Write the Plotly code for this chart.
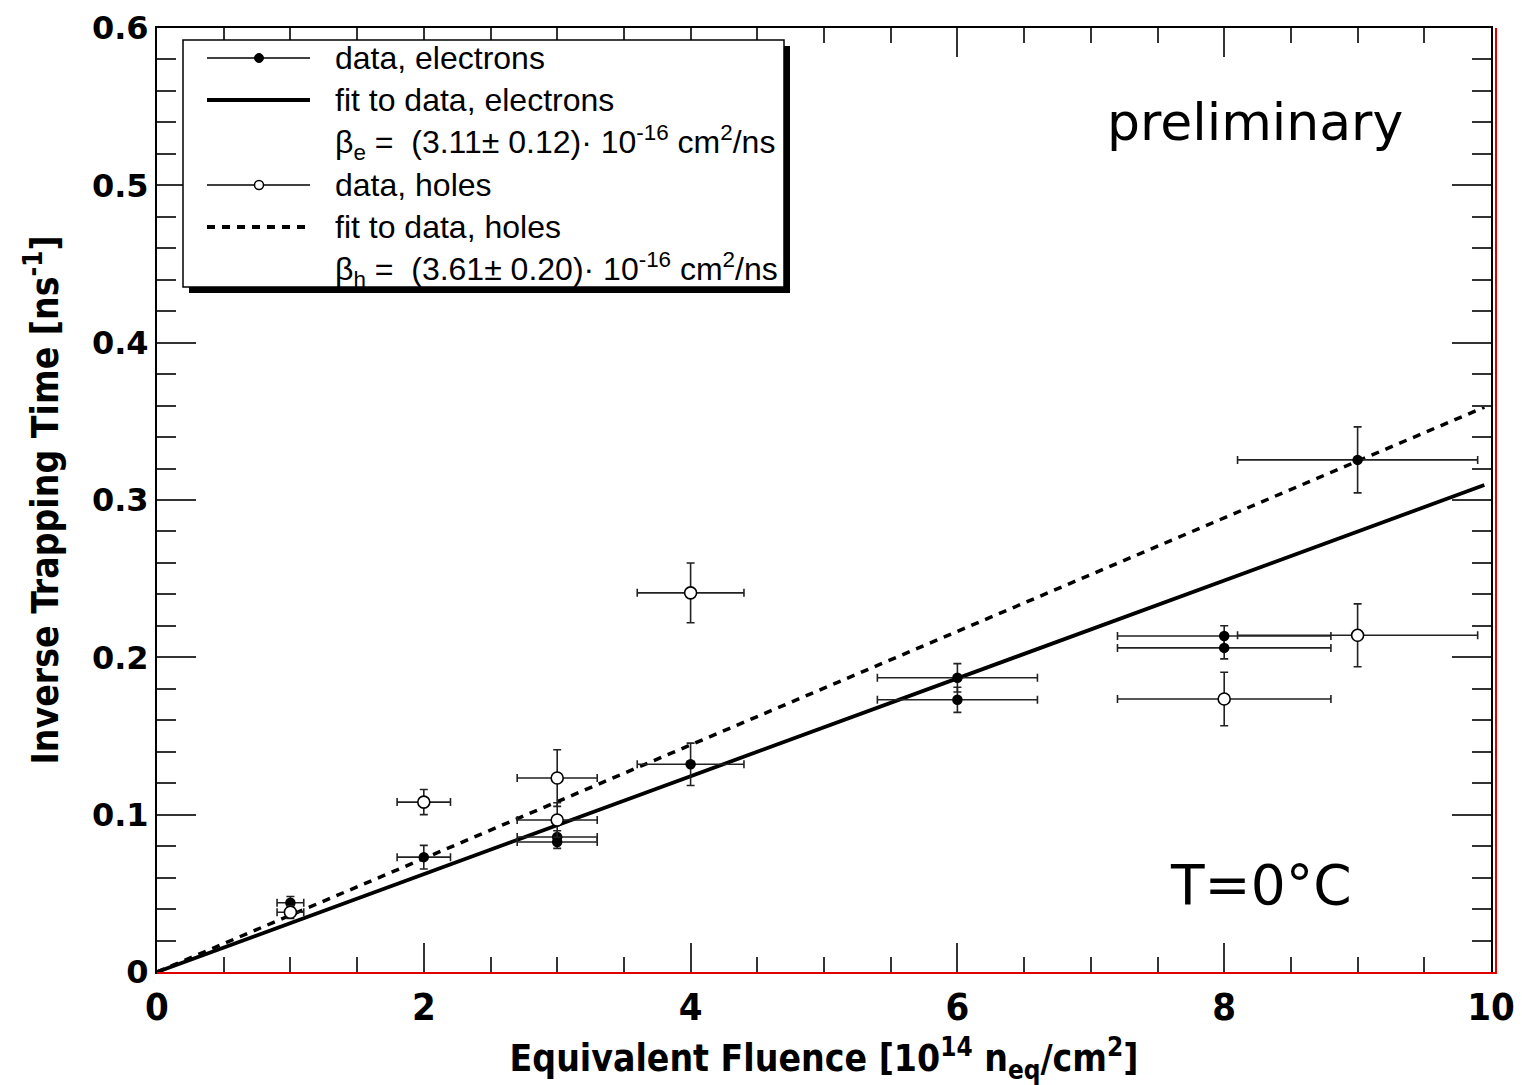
import plotly.graph_objects as go

# ---------------- data ----------------
e_x = [1, 2, 3, 3, 4, 6, 6, 8, 8, 9]
e_y = [0.044, 0.073, 0.0858, 0.0826, 0.132, 0.187, 0.173, 0.2136, 0.206, 0.3255]
e_xerr = [0.1, 0.2, 0.3, 0.3, 0.4, 0.6, 0.6, 0.8, 0.8, 0.9]
e_yerr = [0.004, 0.0075, 0.004, 0.004, 0.0135, 0.009, 0.008, 0.0065, 0.007, 0.021]

h_x = [1, 2, 3, 3, 4, 8, 9]
h_y = [0.038, 0.108, 0.1233, 0.0966, 0.241, 0.1735, 0.214]
h_xerr = [0.1, 0.2, 0.3, 0.3, 0.4, 0.8, 0.9]
h_yerr = [0.004, 0.008, 0.018, 0.011, 0.019, 0.017, 0.020]

fit_x = [0, 9.95]
fit_e_y = [0, 0.3095]
fit_h_y = [0, 0.359]

x_tick_vals = [0, 2, 4, 6, 8, 10]
x_tick_text = ["0", "2", "4", "6", "8", "10"]
y_tick_vals = [0, 0.1, 0.2, 0.3, 0.4, 0.5, 0.6]
y_tick_text = ["0", "0.1", "0.2", "0.3", "0.4", "0.5", "0.6"]

legend_rows = [
    "data, electrons",
    "fit to data, electrons",
    "β<sub>e</sub> =  (3.11± 0.12)· 10<sup>-16</sup> cm<sup>2</sup>/ns",
    "data, holes",
    "fit to data, holes",
    "β<sub>h</sub> =  (3.61± 0.20)· 10<sup>-16</sup> cm<sup>2</sup>/ns",
]

# ---------------- layout geometry ----------------
W, H = 1522, 1085
L, R, T, B = 157, 1491, 28, 972  # plot area in pixels


def px(xp):
    return (xp - L) / (R - L)


def py(yp):
    return (B - yp) / (B - T)


NARROW = "Liberation Sans Narrow, Arial Narrow, DejaVu Sans Condensed, sans-serif"
SANS = "Liberation Sans, Arial, sans-serif"

fig = go.Figure()

fig.add_trace(go.Scatter(x=fit_x, y=fit_h_y, mode="lines",
                         line=dict(color="black", width=3.5, dash="8px,7px"),
                         showlegend=False))
fig.add_trace(go.Scatter(x=fit_x, y=fit_e_y, mode="lines",
                         line=dict(color="black", width=3.8),
                         showlegend=False))

err_style = dict(type="data", visible=True, color="#222", thickness=1.6, width=4)
fig.add_trace(go.Scatter(
    x=e_x, y=e_y, mode="markers",
    marker=dict(symbol="circle", size=10.5, color="black"),
    error_x=dict(array=e_xerr, **err_style),
    error_y=dict(array=e_yerr, **err_style),
    showlegend=False))
fig.add_trace(go.Scatter(
    x=h_x, y=h_y, mode="markers",
    marker=dict(symbol="circle", size=12, color="white",
                line=dict(color="black", width=1.6)),
    error_x=dict(array=h_xerr, **err_style),
    error_y=dict(array=h_yerr, **err_style),
    showlegend=False))

shapes = []
# red border lines (right and bottom)
shapes.append(dict(type="line", xref="paper", yref="paper",
                   x0=px(1496), x1=px(1496), y0=py(973), y1=py(28),
                   line=dict(color="#e00000", width=2)))
shapes.append(dict(type="line", xref="paper", yref="paper",
                   x0=px(157), x1=px(1497), y0=py(973), y1=py(973),
                   line=dict(color="#e00000", width=2)))

# legend box with shadow
shapes.append(dict(type="rect", xref="paper", yref="paper",
                   x0=px(189), x1=px(790), y0=py(46), y1=py(293),
                   fillcolor="black", line=dict(width=0)))
shapes.append(dict(type="rect", xref="paper", yref="paper",
                   x0=px(183), x1=px(784), y0=py(40), y1=py(287),
                   fillcolor="white", line=dict(color="black", width=1.5)))

row_y = [58, 100, 142, 185, 227, 269]
# legend samples
shapes.append(dict(type="line", xref="paper", yref="paper",
                   x0=px(207), x1=px(310), y0=py(row_y[0]), y1=py(row_y[0]),
                   line=dict(color="black", width=1.5)))
shapes.append(dict(type="circle", xref="paper", yref="paper",
                   xsizemode="pixel", ysizemode="pixel",
                   xanchor=px(259), yanchor=py(row_y[0]),
                   x0=-4.5, x1=4.5, y0=-4.5, y1=4.5,
                   fillcolor="black", line=dict(color="black", width=1)))
shapes.append(dict(type="line", xref="paper", yref="paper",
                   x0=px(207), x1=px(310), y0=py(row_y[1]), y1=py(row_y[1]),
                   line=dict(color="black", width=4)))
shapes.append(dict(type="line", xref="paper", yref="paper",
                   x0=px(207), x1=px(310), y0=py(row_y[3]), y1=py(row_y[3]),
                   line=dict(color="black", width=1.5)))
shapes.append(dict(type="circle", xref="paper", yref="paper",
                   xsizemode="pixel", ysizemode="pixel",
                   xanchor=px(259), yanchor=py(row_y[3]),
                   x0=-4.5, x1=4.5, y0=-4.5, y1=4.5,
                   fillcolor="white", line=dict(color="black", width=1.5)))
shapes.append(dict(type="line", xref="paper", yref="paper",
                   x0=px(207), x1=px(305), y0=py(row_y[4]), y1=py(row_y[4]),
                   line=dict(color="black", width=4, dash="8px,7px")))

annotations = []
for txt, yy in zip(legend_rows, row_y):
    annotations.append(dict(text=txt, xref="paper", yref="paper",
                            x=px(333), y=py(yy), xanchor="left", yanchor="middle",
                            showarrow=False,
                            font=dict(family=SANS, size=32, color="black")))

annotations.append(dict(text="preliminary", xref="paper", yref="paper",
                        x=px(1255), y=py(122), xanchor="center", yanchor="middle",
                        showarrow=False,
                        font=dict(family="DejaVu Sans, Verdana, sans-serif", size=52, color="black")))
annotations.append(dict(text="T=0°C", xref="paper", yref="paper",
                        x=px(1261), y=py(885), xanchor="center", yanchor="middle",
                        showarrow=False,
                        font=dict(family="DejaVu Sans, Verdana, sans-serif", size=55, color="black")))

fig.update_layout(
    width=W, height=H,
    margin=dict(l=L, r=W - R, t=T, b=H - B, autoexpand=False),
    paper_bgcolor="white", plot_bgcolor="white",
    shapes=shapes, annotations=annotations,
    showlegend=False,
    xaxis=dict(
        range=[0, 10], showgrid=False, zeroline=False,
        showline=True, linecolor="black", linewidth=2, mirror="allticks",
        ticks="inside", ticklen=29, tickwidth=1.5, tickcolor="#333",
        tickvals=x_tick_vals, ticktext=x_tick_text,
        tickfont=dict(family=NARROW, size=38, color="black", weight="bold"),
        minor=dict(dtick=0.5, ticks="inside", ticklen=15, tickwidth=1.5, tickcolor="#333"),
        title=dict(text="Equivalent Fluence [10<sup>14</sup> n<sub>eq</sub>/cm<sup>2</sup>]",
                   font=dict(family=NARROW, size=37, color="black", weight="bold"),
                   standoff=18),
    ),
    yaxis=dict(
        range=[0, 0.6], showgrid=False, zeroline=False,
        showline=True, linecolor="black", linewidth=2, mirror="allticks",
        ticks="inside", ticklen=39, tickwidth=1.5, tickcolor="#333",
        tickvals=y_tick_vals, ticktext=y_tick_text,
        tickfont=dict(family="DejaVu Sans, sans-serif", size=32, color="black", weight="bold"),
        minor=dict(dtick=0.02, ticks="inside", ticklen=19, tickwidth=1.5, tickcolor="#333"),
        title=dict(text="Inverse Trapping Time [ns<sup>-1</sup>]",
                   font=dict(family=NARROW, size=37, color="black", weight="bold"),
                   standoff=22),
    ),
)

fig.write_html("out.html")
